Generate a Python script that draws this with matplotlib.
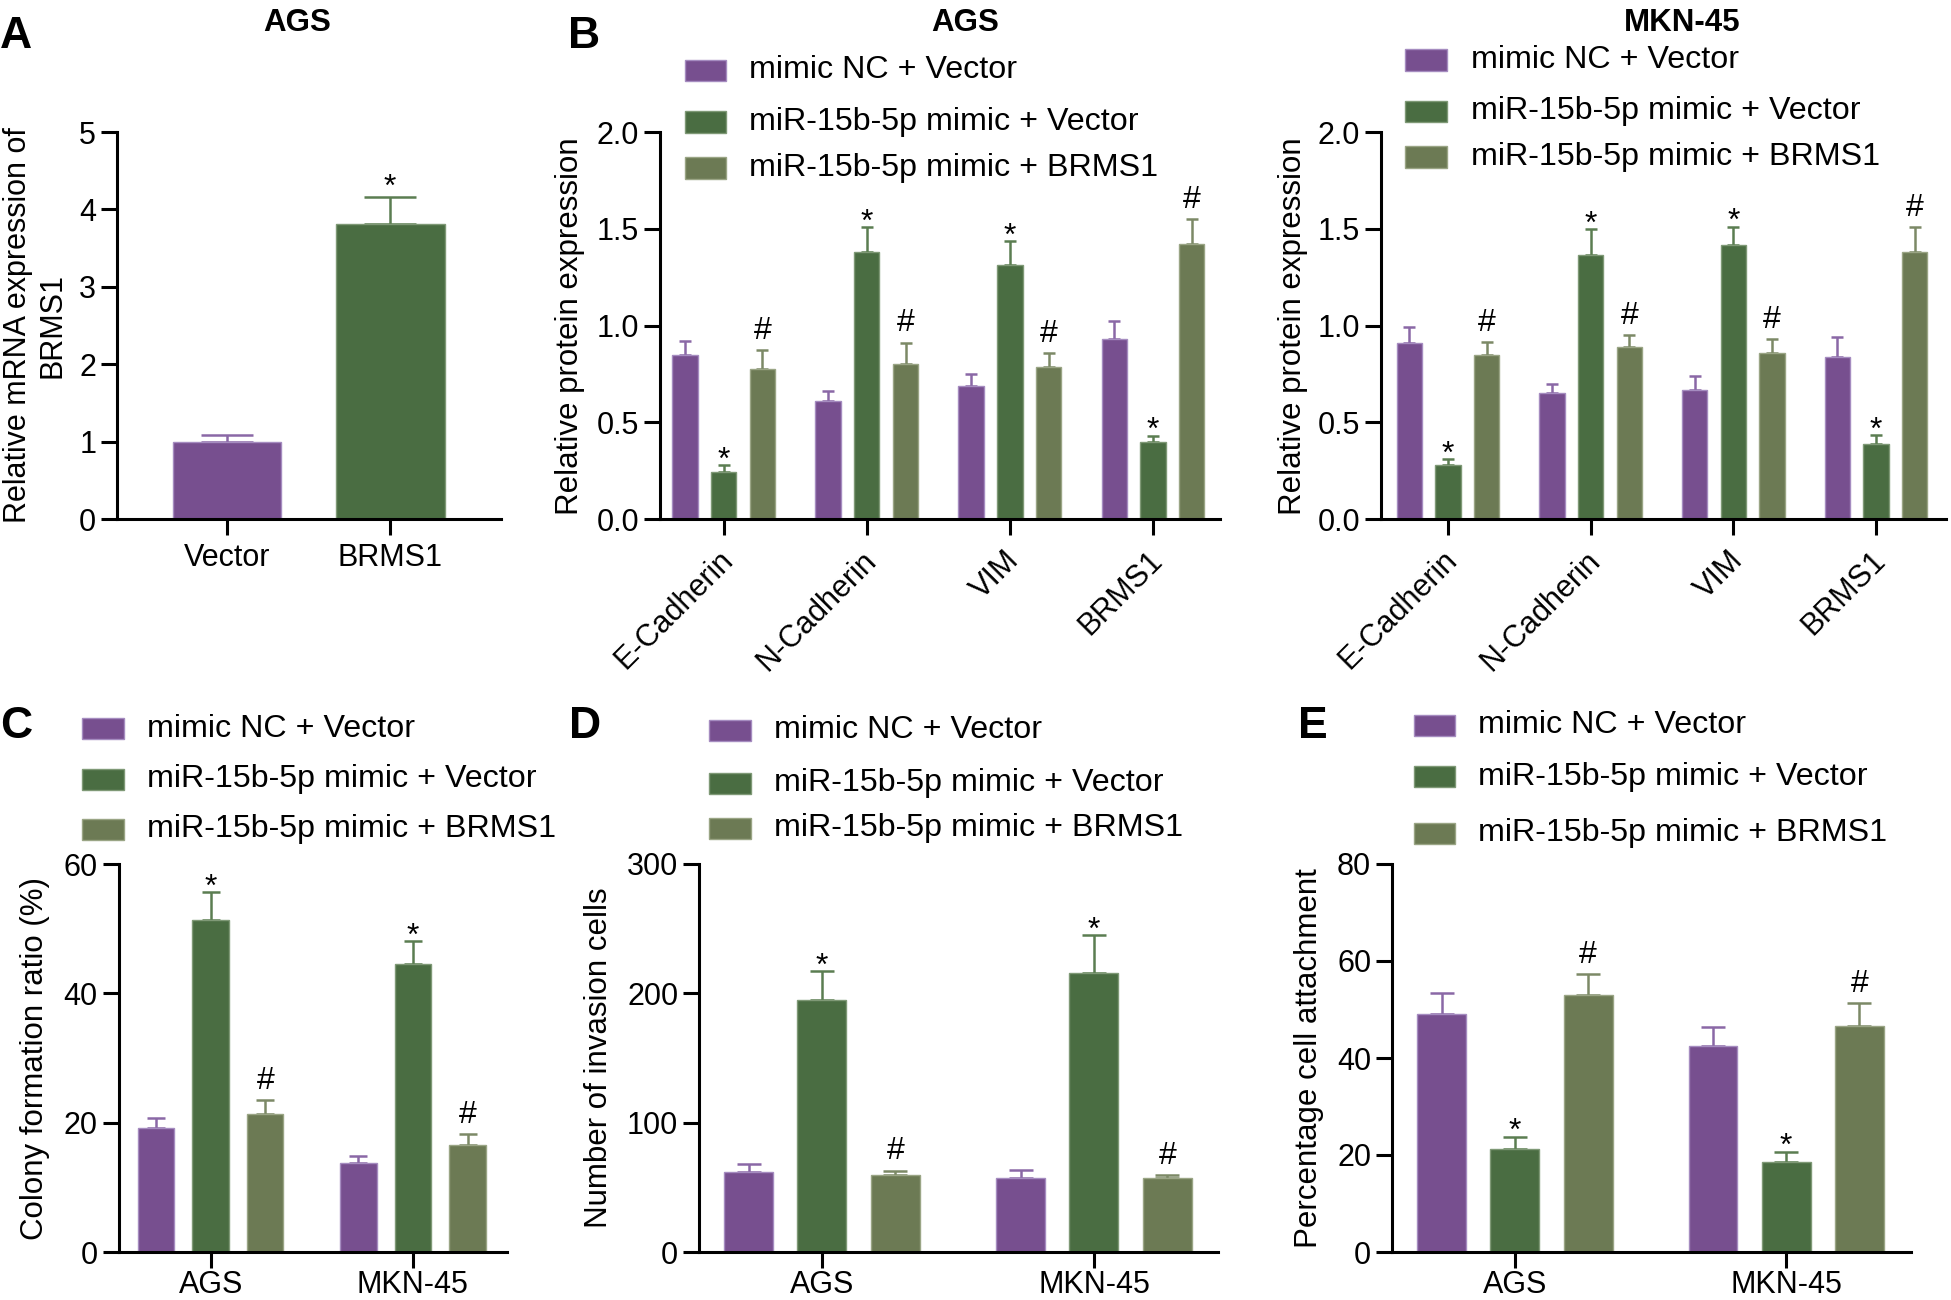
import numpy as np
import matplotlib
matplotlib.use("Agg")
import matplotlib.pyplot as plt
from matplotlib.patches import Rectangle
from matplotlib.transforms import ScaledTranslation

plt.rcParams['font.family'] = ['Liberation Sans', 'DejaVu Sans']

W, H = 1951, 1300
DPI = 100

groups = ["mimic NC + Vector", "miR-15b-5p mimic + Vector", "miR-15b-5p mimic + BRMS1"]
colors = ["#774F8F", "#4A6D42", "#6C7A54"]
edge_colors = ["#A58CC0", "#7F9976", "#9AA585"]
err_colors = ["#8A68A6", "#5B7D51", "#7C8966"]
marks = [None, "*", "#"]

# panel A: mRNA of BRMS1 in AGS
a_labels = ["Vector", "BRMS1"]
a_vals = [1.0, 3.81]
a_errs = [0.08, 0.35]

# panel B: protein expression
proteins = ["E-Cadherin", "N-Cadherin", "VIM", "BRMS1"]
b_ags_vals = [[0.846, 0.608, 0.685, 0.931],
              [0.242, 1.381, 1.315, 0.400],
              [0.777, 0.801, 0.788, 1.420]]
b_ags_errs = [[0.074, 0.056, 0.062, 0.093],
              [0.036, 0.126, 0.120, 0.030],
              [0.095, 0.111, 0.069, 0.130]]
b_mkn_vals = [[0.908, 0.653, 0.668, 0.839],
              [0.278, 1.366, 1.415, 0.388],
              [0.850, 0.887, 0.857, 1.381]]
b_mkn_errs = [[0.086, 0.043, 0.069, 0.100],
              [0.030, 0.131, 0.095, 0.045],
              [0.064, 0.064, 0.072, 0.126]]

# panels C-E
cells = ["AGS", "MKN-45"]
c_vals = [[19.2, 13.8], [51.3, 44.6], [21.4, 16.6]]
c_errs = [[1.5, 1.0], [4.3, 3.5], [2.1, 1.6]]
d_vals = [[62.0, 57.5], [195.0, 216.0], [59.5, 57.0]]
d_errs = [[6.0, 6.0], [22.0, 29.0], [3.5, 2.8]]
e_vals = [[49.0, 42.5], [21.3, 18.5], [52.9, 46.6]]
e_errs = [[4.4, 3.9], [2.5, 2.2], [4.4, 4.8]]

fig = plt.figure(figsize=(W / DPI, H / DPI), dpi=DPI)

TICK_FS = 22
LAB_FS = 22.5
LEG_FS = 23.2
MARK_FS = 23


def px_axes(l, r, t, b):
    return fig.add_axes([l / W, 1 - b / H, (r - l) / W, (b - t) / H])


def style(ax, ylim, yticks, ylabels):
    for s in ["top", "right"]:
        ax.spines[s].set_visible(False)
    for s in ["left", "bottom"]:
        ax.spines[s].set_linewidth(2.2)
    ax.set_ylim(*ylim)
    ax.set_yticks(yticks)
    ax.set_yticklabels(ylabels)
    ax.tick_params(length=11.5, width=2.2, labelsize=TICK_FS)
    ax.tick_params(axis="y", pad=3.5)
    ax.tick_params(axis="x", pad=4)


def mark(ax, x, top, m, big=False):
    off = -2.5 if m == "*" else 8
    if big:
        off = 1
    ax.annotate(m, (x, top), xytext=(0, off), textcoords="offset points",
                ha="center", va="baseline", fontsize=MARK_FS)


def grouped(ax, vals, errs, width, step, capsize):
    n = len(vals[0])
    x = np.arange(n)
    for i in range(3):
        xi = x + (i - 1) * step
        ax.bar(xi, vals[i], width, color=colors[i], edgecolor=edge_colors[i], lw=1, zorder=2)
        ax.errorbar(xi, vals[i], yerr=[np.zeros(n), errs[i]], fmt="none",
                    ecolor=err_colors[i], elinewidth=1.8, capsize=capsize, capthick=1.8, zorder=1)
        if marks[i]:
            for xx, v, e in zip(xi, vals[i], errs[i]):
                mark(ax, xx, v + e, marks[i])


def legend_rows(pl, pr, tx, rows_y, h=21):
    for i, y in enumerate(rows_y):
        fig.add_artist(Rectangle((pl / W, 1 - (y + h / 2) / H), (pr - pl) / W, h / H,
                                 transform=fig.transFigure, facecolor=colors[i],
                                 edgecolor=edge_colors[i], lw=1))
        fig.text(tx / W, 1 - y / H, groups[i], ha="left", va="center", fontsize=LEG_FS)


def ftext(x, y, s, **kw):
    fig.text(x / W, 1 - y / H, s, **kw)


# ---------- A ----------
ax = px_axes(117, 501, 132, 519)
ax.bar([0, 1], a_vals, 0.667, color=colors[:2], edgecolor=edge_colors[:2], lw=1, zorder=2)
for i in range(2):
    ax.errorbar(i, a_vals[i], yerr=[[0], [a_errs[i]]], fmt="none", ecolor=err_colors[i],
                elinewidth=1.8, capsize=19, capthick=1.8, zorder=1)
mark(ax, 1, a_vals[1] + a_errs[1], "*", big=True)
ax.set_xlim(-0.675, 1.68)
ax.set_xticks([0, 1])
ax.set_xticklabels(a_labels)
style(ax, (0, 5), range(6), [str(v) for v in range(6)])
ax.tick_params(axis="x", pad=6)
ftext(35, 325, "Relative mRNA expression of\nBRMS1", rotation=90, ha="center", va="center",
      fontsize=22, linespacing=1.18, multialignment="center")
ftext(297, 23, "AGS", ha="center", va="center", fontsize=22.5, fontweight="bold")
ftext(0, 36, "A", ha="left", va="center", fontsize=32, fontweight="bold")

# ---------- B ----------
b_ticks = [0, 0.5, 1.0, 1.5, 2.0]
for (l, r, xl, vals, errs, title, tx, ylx, leg) in [
        (660, 1219.5, (-0.445, 3.465), b_ags_vals, b_ags_errs, "AGS", 965, 570,
         (685, 726, 749, [70.5, 122, 168])),
        (1381, 1946, (-0.47, 3.49), b_mkn_vals, b_mkn_errs, "MKN-45", 1682, 1293,
         (1405, 1447, 1471, [60, 111.5, 157]))]:
    ax = px_axes(l, r, 132, 519)
    grouped(ax, vals, errs, 0.177, 0.271, 4.4)
    ax.set_xlim(*xl)
    ax.set_xticks(range(4))
    style(ax, (0, 2), b_ticks, ["%.1f" % v for v in b_ticks])
    ax.set_xticklabels(proteins, rotation=45, ha="right", va="center", rotation_mode="anchor")
    ax.tick_params(axis="x", pad=15)
    for lab in ax.get_xticklabels():
        lab.set_transform(lab.get_transform() + ScaledTranslation(5 / DPI, 0, fig.dpi_scale_trans))
    ftext(ylx, 326, "Relative protein expression", rotation=90, ha="center", va="center",
          fontsize=LAB_FS)
    ftext(tx, 23, title, ha="center", va="center", fontsize=22.5, fontweight="bold")
    legend_rows(*leg)
ftext(568, 37, "B", ha="left", va="center", fontsize=32, fontweight="bold")

# ---------- C, D, E ----------
for (l, r, xl, vals, errs, cap, ylim, yt, ylab, ylx, leg, letter, lx) in [
        (118.6, 507, (-0.455, 1.465), c_vals, c_errs, 6.7, (0, 60), [0, 20, 40, 60],
         "Colony formation ratio (%)", 35, (82, 124, 147, [728.6, 779, 829]), "C", 0),
        (699, 1218, (-0.452, 1.456), d_vals, d_errs, 8.8, (0, 300), [0, 100, 200, 300],
         "Number of invasion cells", 599, (709, 751, 774, [730, 783, 828]), "D", 569),
        (1392, 1911, (-0.453, 1.46), e_vals, e_errs, 8.8, (0, 80), [0, 20, 40, 60, 80],
         "Percentage cell attachment", 1309, (1413.5, 1454.6, 1478, [725, 776.5, 833]), "E", 1298)]:
    ax = px_axes(l, r, 864, 1252)
    grouped(ax, vals, errs, 0.18, 0.27, cap)
    ax.set_xlim(*xl)
    ax.set_xticks([0, 1])
    ax.set_xticklabels(cells)
    style(ax, ylim, yt, [str(v) for v in yt])
    ax.tick_params(axis="x", pad=1.5)
    ftext(ylx, 1058, ylab, rotation=90, ha="center", va="center", fontsize=LAB_FS)
    legend_rows(*leg)
    ftext(lx, 727, letter, ha="left", va="center", fontsize=32, fontweight="bold")

fig.savefig("out.png", dpi=DPI)
